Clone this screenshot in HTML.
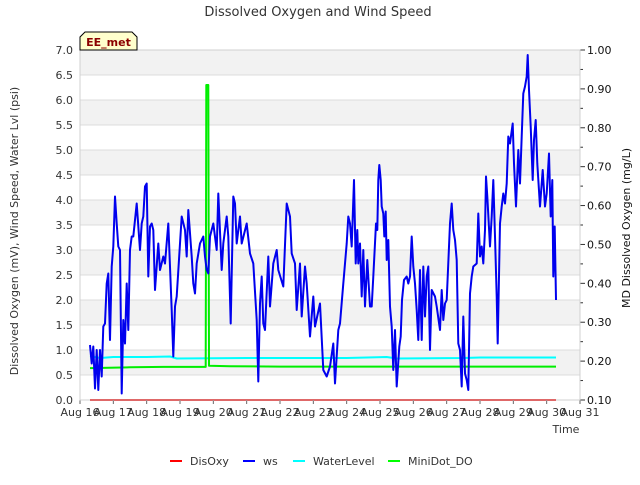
<!DOCTYPE html>
<html><head><meta charset="utf-8"><style>
body{margin:0;background:#fff;}
svg{font-family:"DejaVu Sans","Liberation Sans",sans-serif;}
</style></head><body>
<svg id="chart" width="640" height="480" viewBox="0 0 640 480">
<g id="bg"></g>
<g id="grid"></g>
<g id="series"></g>
<g id="axes"></g>
<text x="318" y="16" text-anchor="middle" font-size="13" fill="#333">Dissolved Oxygen and Wind Speed</text>
<text transform="translate(18,231) rotate(-90)" text-anchor="middle" font-size="11" fill="#333">Dissolved Oxygen (mV), Wind Speed, Water Lvl (psi)</text>
<text transform="translate(630,228) rotate(-90)" text-anchor="middle" font-size="11" fill="#111">MD Dissolved Oxygen (mg/L)</text>
<text x="566" y="433" text-anchor="middle" font-size="11" fill="#333">Time</text>
<g>
<path d="M80,50 L80,37 L85,32 L132,32 L137,37 L137,50 Z" fill="#ffffcc" stroke="#000" stroke-width="1"/>
<text x="108.5" y="46" text-anchor="middle" font-size="11" font-weight="bold" fill="#8b0000">EE_met</text>
</g>
<g id="legend"></g>
</svg>
<script>
const yTicksLeft=["0.0","0.5","1.0","1.5","2.0","2.5","3.0","3.5","4.0","4.5","5.0","5.5","6.0","6.5","7.0"];
const yTicksRight=["0.10","0.20","0.30","0.40","0.50","0.60","0.70","0.80","0.90","1.00"];
const xTickLabels=["Aug 16","Aug 17","Aug 18","Aug 19","Aug 20","Aug 21","Aug 22","Aug 23","Aug 24","Aug 25","Aug 26","Aug 27","Aug 28","Aug 29","Aug 30","Aug 31"];
const wsDay=[0.30,0.35,0.40,0.45,0.50,0.55,0.60,0.65,0.70,0.75,0.80,0.85,0.90,0.95,1.00,1.05,1.10,1.15,1.20,1.25,1.30,1.35,1.40,1.45,1.50,1.55,1.60,1.70,1.80,1.85,1.90,1.95,2.00,2.05,2.10,2.15,2.20,2.25,2.35,2.40,2.50,2.55,2.65,2.75,2.80,2.85,2.90,3.00,3.05,3.15,3.20,3.25,3.35,3.40,3.45,3.50,3.60,3.70,3.75,3.80,3.85,3.90,4.00,4.10,4.15,4.25,4.30,4.40,4.45,4.52,4.60,4.65,4.70,4.80,4.85,5.00,5.10,5.20,5.30,5.35,5.40,5.45,5.50,5.55,5.65,5.70,5.80,5.90,5.95,6.10,6.20,6.30,6.35,6.45,6.50,6.60,6.65,6.75,6.80,6.90,7.00,7.05,7.20,7.30,7.40,7.50,7.60,7.65,7.75,7.80,7.90,8.00,8.05,8.10,8.15,8.22,8.27,8.32,8.35,8.40,8.45,8.50,8.55,8.62,8.70,8.75,8.80,8.88,8.92,8.95,8.98,9.02,9.05,9.10,9.13,9.17,9.20,9.25,9.30,9.35,9.40,9.45,9.50,9.58,9.62,9.66,9.72,9.80,9.85,9.90,9.95,10.00,10.05,10.10,10.15,10.20,10.25,10.30,10.35,10.40,10.45,10.50,10.55,10.65,10.70,10.80,10.85,10.90,10.95,11.00,11.10,11.15,11.20,11.25,11.30,11.35,11.40,11.45,11.50,11.55,11.60,11.65,11.70,11.75,11.80,11.90,11.95,12.00,12.05,12.10,12.15,12.18,12.22,12.30,12.35,12.40,12.45,12.50,12.53,12.60,12.65,12.70,12.75,12.80,12.85,12.90,12.98,13.02,13.08,13.15,13.20,13.25,13.30,13.35,13.40,13.43,13.47,13.52,13.58,13.62,13.67,13.72,13.80,13.88,13.95,14.00,14.07,14.12,14.17,14.20,14.24,14.28];
const wsVal=[1.1,0.73,1.07,0.23,1.0,0.2,1.0,0.47,1.47,1.53,2.33,2.53,1.2,2.67,3.07,4.07,3.53,3.07,3.0,0.13,1.6,1.13,2.33,1.4,3.0,3.27,3.27,3.93,3.0,3.53,3.67,4.27,4.33,2.47,3.47,3.53,3.4,2.2,3.13,2.6,2.87,2.73,3.53,1.8,0.87,1.87,2.07,3.13,3.67,3.4,2.87,3.8,2.87,2.33,2.13,2.73,3.13,3.27,2.87,2.6,2.53,3.27,3.53,3.0,4.13,2.6,3.13,3.67,3.27,1.53,4.07,3.93,3.13,3.67,3.13,3.53,2.93,2.73,1.6,0.37,1.93,2.47,1.53,1.4,2.87,1.87,2.73,3.0,2.6,2.27,3.93,3.67,2.93,2.73,1.8,2.73,1.67,2.67,2.33,1.27,2.07,1.47,1.93,0.6,0.47,0.67,1.13,0.33,1.4,1.53,2.33,3.13,3.67,3.53,3.07,4.4,2.73,3.4,2.73,3.13,2.07,3.0,1.87,2.8,1.87,1.87,2.47,3.53,3.4,4.4,4.7,4.4,3.87,3.73,3.27,3.77,2.8,3.2,1.87,1.47,0.6,1.4,0.27,1.07,1.27,2.0,2.4,2.47,2.33,2.47,3.27,2.67,2.33,1.8,1.2,2.6,1.2,2.67,1.67,2.47,2.67,1.0,2.2,2.07,1.87,1.4,2.2,1.6,1.93,2.0,3.53,3.93,3.4,3.2,2.8,1.13,1.0,0.27,1.67,0.53,0.4,0.2,2.13,2.47,2.67,2.73,3.73,2.87,3.07,2.73,3.4,4.47,4.07,3.07,3.67,4.4,3.27,2.07,1.13,3.53,3.87,4.13,3.93,4.33,5.27,5.13,5.53,4.73,3.87,5.0,4.33,5.27,6.13,6.27,6.47,6.9,6.2,5.47,4.4,5.2,5.6,4.73,3.87,4.6,3.87,4.13,4.93,3.67,4.4,2.47,3.47,2.0];
const wlDay=[0.3,0.6,1.0,2.0,2.7,2.9,5.0,8.0,9.2,9.5,11.5,12.0,13.0,14.28];
const wlVal=[0.88,0.84,0.86,0.86,0.87,0.83,0.84,0.84,0.86,0.83,0.84,0.85,0.85,0.85];
const doDay=[0.3,1.5,2.5,3.77,3.79,3.85,3.87,4.5,6.0,9.5,14.28];
const doVal=[0.182,0.184,0.185,0.185,0.91,0.91,0.188,0.187,0.186,0.186,0.186];
const disDay=[0.3,14.28];
const disVal=[0.0,0.0];

const L=80,R=580,T=50,B=400;
const xS=d=>L+d*(R-L)/15;
const yL=v=>B-v*(B-T)/7;
const yR=v=>B-(v-0.1)*(B-T)/0.9;
const NS="http://www.w3.org/2000/svg";
function mk(tag,attrs,parent){const e=document.createElementNS(NS,tag);for(const k in attrs)e.setAttribute(k,attrs[k]);parent.appendChild(e);return e;}
const bg=document.getElementById('bg'),grid=document.getElementById('grid'),ser=document.getElementById('series'),ax=document.getElementById('axes'),lg=document.getElementById('legend');
for(let i=0;i<14;i++){
  if(i%2===1){const r=mk('rect',{x:L,y:yL((i+1)*0.5),width:R-L,height:yL(i*0.5)-yL((i+1)*0.5),fill:'#f2f2f2'},bg);
  
  }
}
yTicksLeft.forEach((t,i)=>{const y=yL(parseFloat(t));
  const g=mk('line',{x1:L,x2:R,y1:y,y2:y,stroke:'#dcdcdc','stroke-width':1},grid);
  
  
  const tx=mk('text',{x:73,y:y+4,'text-anchor':'end','font-size':11,fill:'#333'},ax);tx.textContent=t;
  
  
});
yTicksRight.forEach((t,i)=>{const y=yR(parseFloat(t));
  mk('line',{x1:R,x2:R+5,y1:y,y2:y,stroke:'#333'},ax);
  if(i<yTicksRight.length-1)mk('line',{x1:R,x2:R+3,y1:yR(parseFloat(t)+0.05),y2:yR(parseFloat(t)+0.05),stroke:'#333'},ax);
  const tx=mk('text',{x:587,y:y+4,'font-size':11,fill:'#111'},ax);tx.textContent=t;
  
  
});
xTickLabels.forEach((t,i)=>{const x=xS(i);
  mk('line',{x1:x,x2:x,y1:B,y2:B+4,stroke:'#666'},ax);
  const tx=mk('text',{x:x,y:416,'text-anchor':'middle','font-size':11,fill:'#333'},ax);tx.textContent=t;
  
  
});
mk('rect',{x:L,y:T,width:R-L,height:B-T,fill:'none',stroke:'#d0d0d0'},ax);
function line(days,vals,yf,color,name){
  const p=days.map((d,i)=>xS(d).toFixed(1)+','+yf(vals[i]).toFixed(1)).join(' ');
  const e=mk('polyline',{points:p,fill:'none',stroke:color,'stroke-width':2,'stroke-linejoin':'round'},ser);
  
  
}
line(disDay,disVal,yL,'#ee0000','disoxy-line');
line(wlDay,wlVal,yL,'#00ffff','waterlevel-line');
line(doDay,doVal,yR,'#00ee00','minidot-do-line');
line(wsDay,wsVal,yL,'#0000ee','ws-line');
const legNames=["DisOxy","ws","WaterLevel","MiniDot_DO"];
const legColors=["#ff0000","#0000ff","#00ffff","#00ff00"];
const legX=[170,243,293,388];
legNames.forEach((n,i)=>{
  const g=mk('g',{},lg);
  
  
  mk('line',{x1:legX[i],x2:legX[i]+12,y1:461,y2:461,stroke:legColors[i],'stroke-width':2},g);
  const t=mk('text',{x:legX[i]+20,y:465,'font-size':11,fill:'#333'},g);t.textContent=n;
});
</script>
</body></html>
